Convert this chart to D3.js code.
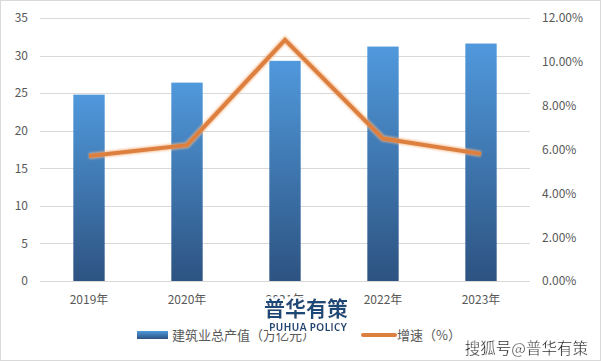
<!DOCTYPE html>
<html><head><meta charset="utf-8">
<script src="https://cdn.jsdelivr.net/npm/d3@7"></script>
<style>body{margin:0;background:#fff}svg{display:block}</style>
</head><body>
<svg id="c" width="601" height="361"></svg>
<script>
const categories = ["2019年","2020年","2021年","2022年","2023年"];
const outputValues = [24.8, 26.4, 29.3, 31.2, 31.6];
const growthValues = [5.7, 6.2, 11.0, 6.5, 5.8];
const leftTicks = [0,5,10,15,20,25,30,35];
const rightTicks = [0,2,4,6,8,10,12];
const legendLabels = ["建筑业总产值（万亿元）","增速（%）"];

const svg = d3.select("#c");
const font = "'Microsoft YaHei','Noto Sans CJK SC',sans-serif";
const W=601,H=361;
const m={l:40,r:71,t:18,b:80};
const x = d3.scaleBand().domain(categories).range([m.l, W-m.r]).paddingInner(0.68).paddingOuter(0.34);
const y = d3.scaleLinear().domain([0,35]).range([H-m.b, m.t]);
const y2 = d3.scaleLinear().domain([0,12]).range([H-m.b, m.t]);

svg.append("rect").attr("x",0.5).attr("y",0.5).attr("width",W-1).attr("height",H-1).attr("fill","#fff").attr("stroke","#d9d9d9");

const defs = svg.append("defs");
const g = defs.append("linearGradient").attr("id","bg").attr("x1",0).attr("y1",0).attr("x2",0).attr("y2",1);
g.append("stop").attr("offset","0%").attr("stop-color","#5099dc");
g.append("stop").attr("offset","100%").attr("stop-color","#2d5381");
const f = defs.append("filter").attr("id","glow").attr("x","-10%").attr("y","-10%").attr("width","120%").attr("height","120%");
f.append("feGaussianBlur").attr("stdDeviation",1.2);
const wf = defs.append("filter").attr("id","halo");
wf.append("feMorphology").attr("in","SourceAlpha").attr("operator","dilate").attr("radius",1.5).attr("result","d");
wf.append("feFlood").attr("flood-color","#fff");
wf.append("feComposite").attr("in2","d").attr("operator","in").attr("result","w");
const mg = wf.append("feMerge"); mg.append("feMergeNode").attr("in","w"); mg.append("feMergeNode").attr("in","SourceGraphic");

// grid
svg.append("g").selectAll("line").data(leftTicks).join("line")
  .attr("x1",m.l).attr("x2",W-m.r).attr("y1",d=>Math.round(y(d))+0.5).attr("y2",d=>Math.round(y(d))+0.5)
  .attr("stroke","#d9d9d9").attr("stroke-width",1);

// left axis
const ax = svg.append("g").attr("transform",`translate(${m.l},0)`).call(d3.axisLeft(y).tickValues(leftTicks).tickSize(0).tickPadding(12));
ax.select(".domain").remove();
ax.selectAll("text").attr("font-family",font).attr("font-size",12).attr("fill","#595959");
const ax2 = svg.append("g").attr("transform",`translate(${W-m.r},0)`).call(d3.axisRight(y2).tickValues(rightTicks).tickFormat(d=>d.toFixed(2)+"%").tickSize(0).tickPadding(12));
ax2.select(".domain").remove();
ax2.selectAll("text").attr("font-family",font).attr("font-size",12).attr("fill","#595959");

// bars
svg.append("g").selectAll("rect").data(outputValues).join("rect")
  .attr("x",(d,i)=>x(categories[i])).attr("width",x.bandwidth())
  .attr("y",d=>y(d)).attr("height",d=>y(0)-y(d)).attr("fill","url(#bg)");

// x labels
const axb = svg.append("g").attr("transform",`translate(0,${H-m.b})`).call(d3.axisBottom(x).tickSize(0).tickPadding(14));
axb.select(".domain").remove();
axb.selectAll("text").attr("font-family",font).attr("font-size",12).attr("fill","#595959");

// line
const line = d3.line().x((d,i)=>x(categories[i])+x.bandwidth()/2).y(d=>y2(d));
svg.append("path").datum(growthValues).attr("d",line).attr("fill","none").attr("stroke","#f5b584").attr("stroke-width",6).attr("stroke-linejoin","miter").attr("filter","url(#glow)").attr("opacity",0.8);
svg.append("path").datum(growthValues).attr("d",line).attr("fill","none").attr("stroke","#dd7f3f").attr("stroke-width",4).attr("stroke-linejoin","miter");

// legend
const lg = svg.append("g");
lg.append("rect").attr("x",137).attr("y",331).attr("width",31).attr("height",8).attr("fill","url(#bg)");
lg.append("text").attr("x",172).attr("y",340).text(legendLabels[0]).attr("font-family",font).attr("font-size",13).attr("fill","#595959");
lg.append("line").attr("x1",363).attr("x2",395).attr("y1",335).attr("y2",335).attr("stroke","#dd7f3f").attr("stroke-width",4).attr("stroke-linecap","round");
lg.append("text").attr("x",397).attr("y",340).text(legendLabels[1]).attr("font-family",font).attr("font-size",13).attr("fill","#595959");

// watermarks
svg.append("text").attr("x",306).attr("y",316).attr("text-anchor","middle").text("普华有策").attr("font-family",font).attr("font-weight","bold").attr("font-size",21).attr("fill","#1e4a78").attr("filter","url(#halo)");
svg.append("text").attr("x",308).attr("y",331).attr("text-anchor","middle").text("PUHUA POLICY").attr("font-family","'Open Sans',sans-serif").attr("font-weight","bold").attr("font-size",10.5).attr("fill","#1e4a78").attr("filter","url(#halo)");
svg.append("text").attr("x",588).attr("y",354).attr("text-anchor","end").text("搜狐号@普华有策").attr("font-family",font).attr("font-size",15.5).attr("fill","#222").attr("stroke","#fff").attr("stroke-width",0.3).attr("filter","url(#halo)");
</script>
</body></html>
